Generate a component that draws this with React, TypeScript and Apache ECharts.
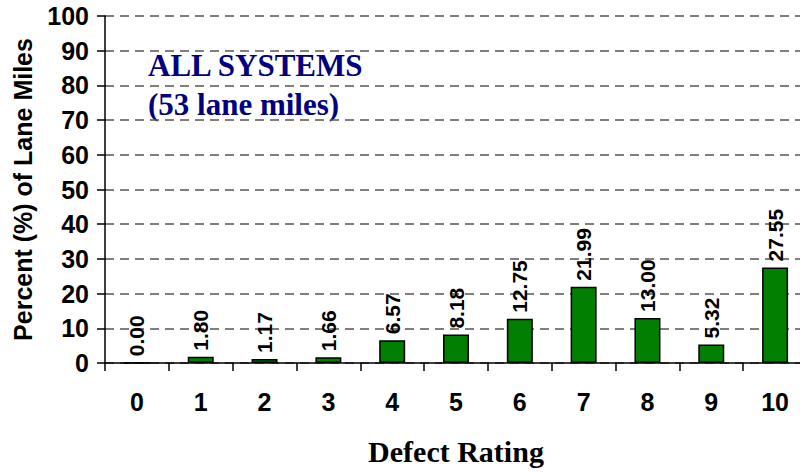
import React, { useEffect, useRef } from "react";
import * as echarts from "echarts";

const categories = ["0", "1", "2", "3", "4", "5", "6", "7", "8", "9", "10"];
const percentValues = [0.0, 1.8, 1.17, 1.66, 6.57, 8.18, 12.75, 21.99, 13.0, 5.32, 27.55];
const yTicks = { min: 0, max: 100, interval: 10 };
const annotationLines = ["ALL SYSTEMS", "(53 lane miles)"];
const xTitle = "Defect Rating";
const yTitle = "Percent (%) of Lane Miles";

export default function App() {
  const ref = useRef<HTMLDivElement>(null);
  useEffect(() => {
    if (!ref.current) return;
    const chart = echarts.init(ref.current, null, { renderer: "svg" });
    chart.setOption({
      animation: false,
      backgroundColor: "#ffffff",
      grid: {
        left: 105,
        top: 16,
        bottom: 109,
        right: -7,
        containLabel: false,
        outerBoundsMode: "none",
      },
      xAxis: {
        type: "category",
        data: categories,
        boundaryGap: true,
        name: xTitle,
        nameLocation: "middle",
        nameGap: 73,
        nameTextStyle: {
          fontFamily: "Liberation Serif, Times New Roman, serif",
          fontWeight: "bold",
          fontSize: 30,
          color: "#000",
        },
        axisLine: { lineStyle: { color: "#000", width: 1.5 } },
        axisTick: { show: true, length: 8, lineStyle: { color: "#000", width: 1.5 } },
        axisLabel: {
          fontFamily: "Liberation Sans, Arial, sans-serif",
          fontWeight: "bold",
          fontSize: 25,
          color: "#000",
          margin: 26,
        },
        splitLine: { show: false },
      },
      yAxis: {
        type: "value",
        min: yTicks.min,
        max: yTicks.max,
        interval: yTicks.interval,
        name: yTitle,
        nameLocation: "middle",
        nameGap: 70,
        nameRotate: 90,
        nameTextStyle: {
          fontFamily: "Liberation Sans, Arial, sans-serif",
          fontWeight: "bold",
          fontSize: 25,
          color: "#000",
        },
        axisLine: { show: true, lineStyle: { color: "#000", width: 1.5 } },
        axisTick: { show: true, length: 8, lineStyle: { color: "#000", width: 1.5 } },
        axisLabel: {
          fontFamily: "Liberation Sans, Arial, sans-serif",
          fontWeight: "bold",
          fontSize: 25,
          color: "#000",
          margin: 16,
        },
        splitLine: {
          show: true,
          lineStyle: { color: "#555", width: 1.5, type: [9, 6] },
        },
      },
      series: [
        {
          type: "bar",
          data: percentValues,
          barWidth: 26,
          itemStyle: { color: "#007F00", borderColor: "#000", borderWidth: 1.5 },
          label: {
            show: true,
            position: "top",
            rotate: 90,
            align: "left",
            verticalAlign: "middle",
            distance: 6,
            fontFamily: "Liberation Sans, Arial, sans-serif",
            fontWeight: "bold",
            fontSize: 21,
            color: "#000",
            formatter: (p: any) => Number(p.value).toFixed(2),
          },
        },
      ],
      graphic: [
        {
          type: "text",
          left: 148,
          top: 50,
          style: {
            text: annotationLines[0],
            fontFamily: "Liberation Serif, Times New Roman, serif",
            fontWeight: "bold",
            fontSize: 31,
            fill: "#000080",
          },
        },
        {
          type: "text",
          left: 148,
          top: 89,
          style: {
            text: annotationLines[1],
            fontFamily: "Liberation Serif, Times New Roman, serif",
            fontWeight: "bold",
            fontSize: 31,
            fill: "#000080",
          },
        },
      ],
    });
    return () => chart.dispose();
  }, []);
  return <div ref={ref} style={{ width: 800, height: 472, position: "absolute", left: 0, top: 0 }} />;
}
